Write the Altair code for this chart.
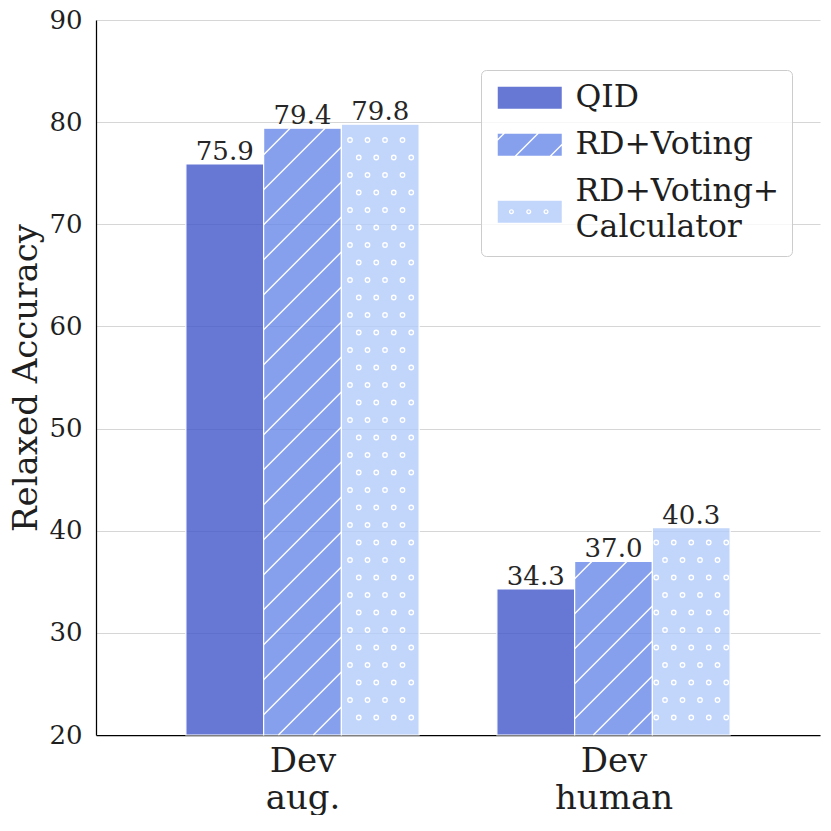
import json
import altair as alt
import pandas as pd

# ---- data ----
groups = ["Dev aug.", "Dev human"]
methods = ["QID", "RD+Voting", "RD+Voting+Calculator"]
dev_aug = [75.9, 79.4, 79.8]
dev_human = [34.3, 37.0, 40.3]
y_ticks = [20, 30, 40, 50, 60, 70, 80, 90]
legend_lines = {"RD+Voting+Calculator": ["RD+Voting+", "Calculator"]}
colors = ["#4055c9", "#6988ea", "#b3caf9"]

rows = []
for gi, vals in enumerate([dev_aug, dev_human]):
    for mi, (m, v) in enumerate(zip(methods, vals)):
        rows.append({"group": groups[gi], "gi": gi, "method": m, "mi": mi, "value": v})
df = pd.DataFrame(rows)

# ---- layout / style ----
XMIN, XMAX = -0.664, 1.664
YMIN, YMAX = 20, 90
W, H = 724, 715
BARW = 0.25
PX = W / (XMAX - XMIN)
PY = H / (YMAX - YMIN)
FONT = "DejaVu Serif"
TXT = "#1f1f1f"

xs = alt.Scale(domain=[XMIN, XMAX], nice=False, zero=False)
ys = alt.Scale(domain=[YMIN, YMAX], nice=False, zero=False)
cs = alt.Scale(domain=methods, range=colors)

# legend symbol paths (unit = sqrt(symbolSize)/2 px = 11 px).
# The white hatch is cut out of the fill as holes (opposite winding).
RO, RI = 0.23, 0.11
def circ(cx, cy, rr, sweep):
    return (f"M{cx - rr},{cy}A{rr},{rr} 0 1,{sweep} {cx + rr},{cy}"
            f"A{rr},{rr} 0 1,{sweep} {cx - rr},{cy}Z")
def ring(cx, cy):
    return circ(cx, cy, RO, 0) + " " + circ(cx, cy, RI, 1)
def rect(dy=0.0):
    return f"M-1,{-1 + dy}H4.818V{1 + dy}H-1Z"
S3 = 1.82  # third symbol sits between its two label lines
hatch_holes = (
    " M-0.545,-1L-1,-0.545L-1,-0.365L-0.365,-1Z"
    " M2.546,-1L0.546,1L0.726,1L2.726,-1Z"
    " M4.818,-0.09L3.728,1L3.908,1L4.818,0.09Z"
)
paths = [
    rect(),
    rect() + hatch_holes,
    rect(S3) + " " + ring(0.245, S3) + " " + ring(1.818, S3) + " " + ring(3.39, S3),
]

x_label_expr = (
    f"datum.value == 0 ? {json.dumps(groups[0].split())} : {json.dumps(groups[1].split())}"
)
leg_label_expr = " : ".join(
    [f"datum.label == {json.dumps(k)} ? {json.dumps(v)}" for k, v in legend_lines.items()]
) + " : datum.label"

xaxis = alt.Axis(
    values=[0, 1], labelExpr=x_label_expr, title=None, grid=False,
    ticks=False, tickSize=0, domainColor="black", domainWidth=1.25,
    labelFont=FONT, labelFontSize=34, labelColor=TXT, labelPadding=9,
    labelLineHeight=37, labelBaseline="top", labelOverlap=False, labelFlush=False,
)
yaxis = alt.Axis(
    values=y_ticks, format="d", title="Relaxed Accuracy", grid=True,
    gridColor="#d6d6d6", gridWidth=1, ticks=False, tickSize=0,
    domainColor="black", domainWidth=1.25, labelFont=FONT, labelFontSize=26,
    labelColor=TXT, labelPadding=14, labelFlush=False,
    titleFont=FONT, titleFontSize=34, titleFontWeight="normal",
    titleColor=TXT, titlePadding=5,
)
leg = alt.Legend(
    title=None, orient="none", legendX=385, legendY=50, labelExpr=leg_label_expr,
    labelFont=FONT, labelFontSize=31.5, labelColor=TXT, labelLimit=400, labelOffset=51,
    labelBaseline="middle", symbolSize=484, symbolStrokeWidth=0,
    symbolOpacity=0.8, padding=12, rowPadding=14,
    strokeColor="#cccccc", cornerRadius=5, fillColor="rgba(255,255,255,0.8)",
)

def X(f):
    return alt.X(f, scale=xs, axis=xaxis)

def Y(f):
    return alt.Y(f, scale=ys, axis=yaxis)

base = alt.Chart(df).transform_calculate(
    xc=f"datum.gi + (datum.mi - 1) * {BARW}"
).transform_calculate(
    x0=f"datum.xc - {BARW / 2}", x1=f"datum.xc + {BARW / 2}"
)

legend_layer = base.transform_filter("false").mark_point(
    filled=True, opacity=1
).encode(
    x=X("xc:Q"), y=Y("value:Q"),
    color=alt.Color("method:N", scale=cs, legend=leg),
    shape=alt.Shape("method:N", scale=alt.Scale(domain=methods, range=paths), legend=leg),
)

bars = base.mark_bar(fillOpacity=0.8, stroke="white", strokeWidth=1.2).encode(
    x=X("x0:Q"), x2="x1:Q", y=Y("value:Q"), y2=alt.datum(YMIN),
    color=alt.Color("method:N", scale=cs, legend=leg),
)

hatch = base.transform_filter(
    f"datum.method == {json.dumps(methods[1])}"
).transform_calculate(
    L=f"(datum.x0 - ({XMIN})) * {PX}",
    BW=f"{BARW * PX}",
    BH=f"(datum.value - {YMIN}) * {PY}",
    k="sequence(0, 40)",
).transform_flatten(["k"]).transform_calculate(
    c="((datum.L + 27.6) % 35) - 140 + 35 * datum.k"
).transform_calculate(
    u0="max(0, -datum.c)", u1="min(datum.BW, datum.BH - datum.c)"
).transform_filter("datum.u1 > datum.u0 + 0.5").transform_calculate(
    hx0=f"datum.x0 + datum.u0 / {PX}",
    hx1=f"datum.x0 + datum.u1 / {PX}",
    hy0=f"{YMIN} + (datum.u0 + datum.c) / {PY}",
    hy1=f"{YMIN} + (datum.u1 + datum.c) / {PY}",
).mark_rule(color="white", strokeWidth=1.4).encode(
    x=X("hx0:Q"), x2="hx1:Q", y=Y("hy0:Q"), y2="hy1:Q",
)

dots = base.transform_filter(
    f"datum.method == {json.dumps(methods[2])}"
).transform_calculate(
    L=f"(datum.x0 - ({XMIN})) * {PX}",
    BW=f"{BARW * PX}",
    BH=f"(datum.value - {YMIN}) * {PY}",
    m="sequence(1, 40)",
).transform_flatten(["m"]).transform_calculate(
    i="sequence(0, 8)"
).transform_flatten(["i"]).transform_calculate(
    px="9 + 8.75 * (datum.m % 2) + 17.5 * (floor((datum.L - 9) / 17.5) - 1 + datum.i)",
    pv="17.5 * datum.m",
).transform_filter(
    "datum.px > datum.L + 2.5 && datum.px < datum.L + datum.BW - 2.5 && datum.pv < datum.BH - 2.5"
).transform_calculate(
    dx=f"{XMIN} + datum.px / {PX}", dy=f"{YMIN} + datum.pv / {PY}"
).mark_point(shape="circle", filled=False, color="white", strokeWidth=1.3, size=20, opacity=1).encode(
    x=X("dx:Q"), y=Y("dy:Q")
)

labels = base.mark_text(
    baseline="alphabetic", dy=-4, font=FONT, fontSize=26, color="#262626"
).encode(
    x=X("xc:Q"), y=Y("value:Q"), text=alt.Text("value:Q", format=".1f"),
)

chart = alt.layer(legend_layer, bars, hatch, dots, labels).properties(
    width=W, height=H,
    padding={"left": 88, "top": 12, "right": 3, "bottom": 80},
    autosize=alt.AutoSizeParams(type="none"),
    background="white",
).configure(
    style={"guide-label": {"lineHeight": 36}}
).configure_view(stroke=None)

chart.save("out.html", embed_options={"renderer": "svg", "actions": False})
